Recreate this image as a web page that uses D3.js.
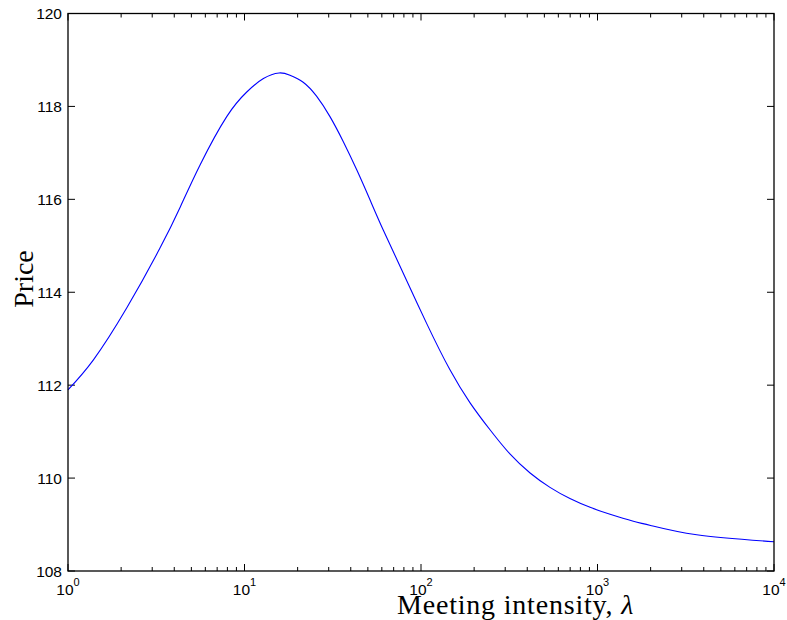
<!DOCTYPE html>
<html>
<head>
<meta charset="utf-8">
<script src="https://cdn.jsdelivr.net/npm/d3@7"></script>
<style>
  body { margin: 0; background: #fff; }
  text { fill: #000; }
</style>
</head>
<body>
<svg id="chart" width="787" height="620"></svg>
<script>
// meeting intensity (lambda) and resulting price
const lambda = [1, 1.39, 2.15, 3.32, 4.32, 5.6, 7.93, 10.3, 12.8, 15.7, 18.1, 21.5, 25.6,
  30.5, 36.3, 43.3, 51.4, 61.1, 77.8, 107.6, 145.9, 189.7, 246, 319, 415, 538, 698,
  908, 1178, 1596, 2000, 3648, 10000]
const price = [111.90, 112.54, 113.66, 114.95, 115.83, 116.74, 117.78, 118.31, 118.60, 118.72,
  118.67, 118.52, 118.22, 117.78, 117.24, 116.63, 115.99, 115.34, 114.48, 113.33,
  112.33, 111.62, 111.04, 110.52, 110.11, 109.80, 109.56, 109.37, 109.22, 109.07,
  108.98, 108.78, 108.63]
const yTicks = [108, 110, 112, 114, 116, 118, 120]
const xDecades = [0, 1, 2, 3, 4]

const MARGIN = {left: 68, top: 13.5, right: 774, bottom: 571}
const svg = d3.select("#chart")

const x = d3.scaleLog().domain([1, 1e4]).range([MARGIN.left, MARGIN.right])
const y = d3.scaleLinear().domain([108, 120]).range([MARGIN.bottom, MARGIN.top])

// minor ticks for the log axis
const minor = []
xDecades.slice(0, -1).forEach(d => {
  for (let k = 2; k < 10; k++) minor.push(k * Math.pow(10, d))
})

const ticks = svg.append("g").attr("stroke", "#000").attr("stroke-width", 1)
xDecades.forEach(d => {
  const px = x(Math.pow(10, d))
  ticks.append("line").attr("x1", px).attr("x2", px).attr("y1", MARGIN.bottom).attr("y2", MARGIN.bottom - 7)
  ticks.append("line").attr("x1", px).attr("x2", px).attr("y1", MARGIN.top).attr("y2", MARGIN.top + 7)
})
minor.forEach(v => {
  const px = x(v)
  ticks.append("line").attr("x1", px).attr("x2", px).attr("y1", MARGIN.bottom).attr("y2", MARGIN.bottom - 4)
  ticks.append("line").attr("x1", px).attr("x2", px).attr("y1", MARGIN.top).attr("y2", MARGIN.top + 4)
})
yTicks.forEach(v => {
  const py = y(v)
  ticks.append("line").attr("x1", MARGIN.left).attr("x2", MARGIN.left + 7).attr("y1", py).attr("y2", py)
  ticks.append("line").attr("x1", MARGIN.right).attr("x2", MARGIN.right - 7).attr("y1", py).attr("y2", py)
})

// y tick labels
svg.append("g").selectAll("text").data(yTicks).join("text")
  .attr("x", MARGIN.left - 6).attr("y", d => y(d)).attr("dy", "0.36em")
  .attr("text-anchor", "end")
  .style("font", "15.5px 'Liberation Sans', Arial, sans-serif")
  .text(d => d)

// x tick labels: 10 with superscript exponent
const xl = svg.append("g").style("font-family", "'Liberation Sans', Arial, sans-serif")
xDecades.forEach(d => {
  const t = xl.append("text").attr("x", x(Math.pow(10, d))).attr("y", 595)
    .attr("text-anchor", "middle").style("font-size", "15.5px")
  t.append("tspan").text("10")
  t.append("tspan").attr("dy", -9).style("font-size", "11px").text(d)
})

// curve
const line = d3.line().x((d, i) => x(lambda[i])).y(d => y(d)).curve(d3.curveNatural)
svg.append("path").datum(price)
  .attr("d", line).attr("fill", "none").attr("stroke", "#0000ff").attr("stroke-width", 1.1)

// frame
svg.append("rect")
  .attr("x", MARGIN.left).attr("y", MARGIN.top)
  .attr("width", MARGIN.right - MARGIN.left).attr("height", MARGIN.bottom - MARGIN.top)
  .attr("fill", "none").attr("stroke", "#000").attr("stroke-width", 1.3)

// axis labels
const xlab = svg.append("text").attr("x", 397).attr("y", 614)
  .style("font", "28px 'Liberation Serif', 'DejaVu Serif', serif")
  .style("letter-spacing", "0.8px")
xlab.append("tspan").text("Meeting intensity, ")
xlab.append("tspan").style("font-style", "italic").text("λ")

svg.append("text").attr("transform", "translate(33,279) rotate(-90)")
  .attr("text-anchor", "middle")
  .style("font", "28px 'Liberation Serif', 'DejaVu Serif', serif")
  .text("Price")
</script>
</body>
</html>
